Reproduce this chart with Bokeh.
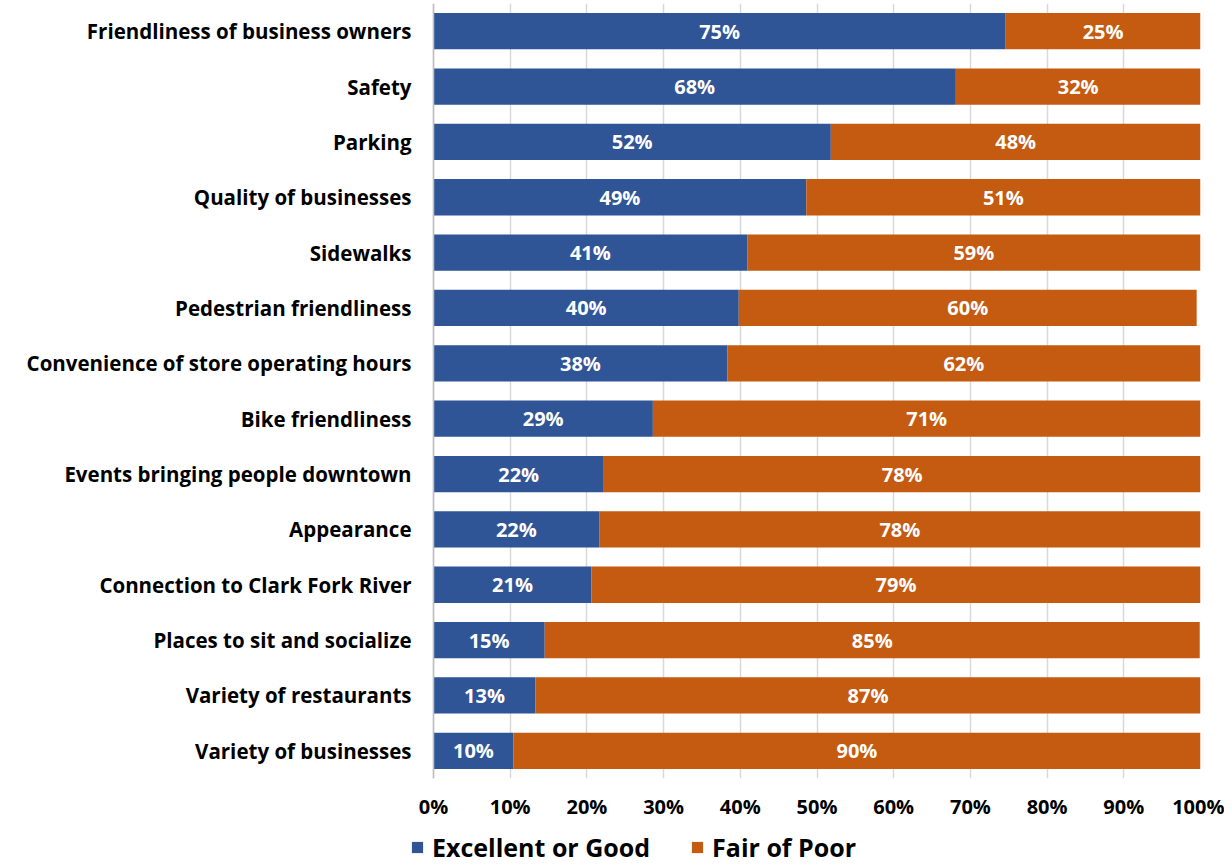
from bokeh.plotting import figure
from bokeh.layouts import column
from bokeh.models import ColumnDataSource, FactorRange, Legend, LegendItem, NumeralTickFormatter, FixedTicker, Span
from bokeh.core.properties import value
from bokeh.embed import file_html
from bokeh.resources import INLINE

categories = [
    "Friendliness of business owners", "Safety", "Parking", "Quality of businesses",
    "Sidewalks", "Pedestrian friendliness", "Convenience of store operating hours",
    "Bike friendliness", "Events bringing people downtown", "Appearance",
    "Connection to Clark Fork River", "Places to sit and socialize",
    "Variety of restaurants", "Variety of businesses",
]
excellent_or_good = [74.6, 68.1, 51.8, 48.6, 40.9, 39.8, 38.3, 28.6, 22.2, 21.6, 20.6, 14.5, 13.3, 10.4]
fair_or_poor = [25.4, 31.9, 48.2, 51.4, 59.1, 59.7, 61.7, 71.4, 77.8, 78.4, 79.4, 85.4, 86.7, 89.6]
x_ticks = [0, 10, 20, 30, 40, 50, 60, 70, 80, 90, 100]
series_names = ["Excellent or Good", "Fair of Poor"]

BLUE = "#2F5597"
ORANGE = "#C55A11"
FONT = "Open Sans"

def lab(v):
    return f"{int(v + 0.5)}%"

src = ColumnDataSource(dict(
    cat=categories,
    e0=[0] * len(categories),
    e1=excellent_or_good,
    f1=[a + b for a, b in zip(excellent_or_good, fair_or_poor)],
    emid=[a / 2 for a in excellent_or_good],
    fmid=[a + b / 2 for a, b in zip(excellent_or_good, fair_or_poor)],
    elab=[lab(v) for v in excellent_or_good],
    flab=[lab(v) for v in fair_or_poor],
))

# frame begins a little left of 0% so that the legend below can start there
p = figure(
    frame_width=790, frame_height=775,
    y_range=FactorRange(*reversed(categories), range_padding=0),
    x_range=(-3.0, 100),
    output_backend="svg", toolbar_location=None,
    min_border_left=410, min_border_right=24, min_border_top=3, min_border_bottom=48,
)
p.outline_line_color = None

p.hbar(y="cat", left="e0", right="e1", height=0.655, source=src, color=BLUE, line_color=None)
p.hbar(y="cat", left="e1", right="f1", height=0.655, source=src, color=ORANGE, line_color=None)

p.text(x="emid", y="cat", text="elab", source=src, text_align="center", text_baseline="middle",
       text_color="white", text_font=value(FONT), text_font_style="bold", text_font_size="20px")
p.text(x="fmid", y="cat", text="flab", source=src, text_align="center", text_baseline="middle",
       text_color="white", text_font=value(FONT), text_font_style="bold", text_font_size="20px")

p.xaxis.ticker = FixedTicker(ticks=x_ticks)
p.xaxis.formatter = NumeralTickFormatter(format="0")
p.xaxis.major_label_overrides = {t: f"{t}%" for t in x_ticks}
p.xaxis.axis_line_color = None
p.xaxis.major_tick_line_color = None
p.xaxis.minor_tick_line_color = None
p.xaxis.major_label_standoff = 8
p.xaxis.major_label_text_font = FONT
p.xaxis.major_label_text_font_style = "bold"
p.xaxis.major_label_text_font_size = "20px"
p.xaxis.major_label_text_color = "black"

p.yaxis.axis_line_color = None
p.yaxis.major_tick_line_color = None
p.yaxis.minor_tick_line_color = None
p.yaxis.major_label_standoff = -7
p.yaxis.major_label_text_font = FONT
p.yaxis.major_label_text_font_style = "bold"
p.yaxis.major_label_text_font_size = "20.5px"
p.yaxis.major_label_text_color = "black"

p.ygrid.grid_line_color = None
p.xgrid.grid_line_color = "#D9D9D9"
p.xgrid.grid_line_width = 1.5
p.add_layout(Span(location=0, dimension="height", line_color="#BFBFBF", line_width=1.5))

# legend strip below the chart
lf = figure(width=1224, height=38, output_backend="svg", toolbar_location=None,
            x_axis_type=None, y_axis_type=None, min_border=0, x_range=(0, 1), y_range=(0, 1))
lf.outline_line_color = None
lf.grid.grid_line_color = None
dummy = ColumnDataSource(dict(y=[-10], l=[0], r=[0]))
d1 = lf.hbar(y="y", left="l", right="r", height=1, source=dummy, color=BLUE, line_color=None)
d2 = lf.hbar(y="y", left="l", right="r", height=1, source=dummy, color=ORANGE, line_color=None)

legend = Legend(items=[LegendItem(label=series_names[0], renderers=[d1]),
                       LegendItem(label=series_names[1], renderers=[d2])],
                orientation="horizontal", location=(0, 0),
                glyph_width=14, glyph_height=14, label_standoff=8, spacing=40,
                label_text_font=FONT, label_text_font_style="bold", label_text_font_size="25px",
                label_text_color="black",
                border_line_color=None, background_fill_alpha=0, padding=0, margin=0)
lf.add_layout(legend)

open("out.html", "w").write(file_html(column(p, lf, spacing=0), INLINE))
